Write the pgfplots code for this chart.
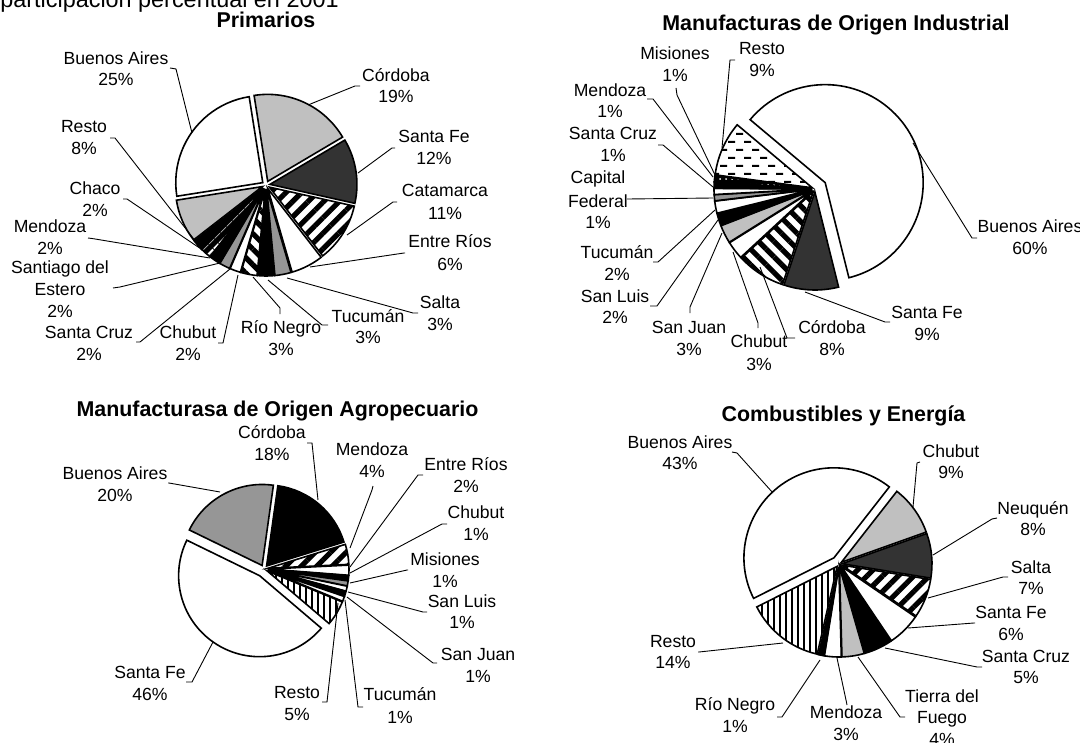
\documentclass[border=0pt]{standalone}
\usepackage{fontspec}
\setmainfont{Liberation Sans}
\usepackage{pgfplots}
\pgfplotsset{compat=1.18}
\usetikzlibrary{patterns,patterns.meta}
\definecolor{lgray}{HTML}{C0C0C0}
\definecolor{dgray}{HTML}{333333}
\definecolor{mgray}{HTML}{969696}

\pgfdeclarepatternformonly{hdash}{\pgfqpoint{-1pt}{-1pt}}{\pgfqpoint{9pt}{9pt}}{\pgfqpoint{8pt}{8pt}}{%
 \pgfpathrectangle{\pgfqpoint{0pt}{0pt}}{\pgfqpoint{3.5pt}{1pt}}%
 \pgfpathrectangle{\pgfqpoint{4pt}{4pt}}{\pgfqpoint{3.5pt}{1pt}}%
 \pgfusepath{fill}}

\tikzset{
 sWhite/.style={fill=white},
 sLgray/.style={fill=lgray},
 sDgray/.style={fill=dgray},
 sMgray/.style={fill=mgray},
 sBlack/.style={fill=black},
 sDiagA/.style={preaction={fill=white}, pattern={Lines[angle=45,distance=5.5pt,line width=2.6pt]}},
 sDiagB/.style={preaction={fill=white}, pattern={Lines[angle=-45,distance=5.5pt,line width=2.6pt]}},
 sVlines/.style={preaction={fill=white}, pattern={Lines[angle=90,distance=3pt,line width=1.2pt]}},
 sBdash/.style={preaction={fill=black}, pattern={Lines[angle=45,distance=4pt,line width=1.2pt]}, pattern color=white},
 sBdots/.style={preaction={fill=black}, pattern=dots, pattern color=white},
 sHdash/.style={preaction={fill=white}, pattern=hdash},
 leader/.style={line width=0.45pt},
 lbl/.style={anchor=base, inner sep=0pt, font=\fontsize{8.8}{10}\selectfont},
 ttl/.style={anchor=base, inner sep=0pt, font=\bfseries\fontsize{10.7}{12}\selectfont},
}

% #1 cx, #2 cy, #3 radius (px), #4 first slice angle (deg clockwise from 12 o'clock), #5 value/style/explode
\newcommand\pie[5]{%
 \pgfplotsextra{%
  \xdef\cum{#4}%
  \foreach \v/\st/\ex in {#5}{%
   \pgfmathsetmacro\aA{90-\cum}%
   \pgfmathsetmacro\aB{90-\cum-3.6*\v}%
   \pgfmathsetmacro\aM{(\aA+\aB)/2}%
   \draw[\st, line width=0.8pt, line join=miter]
     ([shift={(\aM:\ex*0.5pt)}]axis cs:#1,#2) -- ++(\aA:#3*0.5pt)
     arc[start angle=\aA, end angle=\aB, radius=#3*0.5pt] -- cycle;
   \pgfmathsetmacro\tmp{\cum+3.6*\v}\xdef\cum{\tmp}%
  }%
 }%
}
\newcommand\lab[5]{%
 \node[lbl] at (axis cs:#1,#2) {#4};
 \node[lbl] at (axis cs:#1,#3) {#5};}
\newcommand\ld[3]{\draw[leader] (axis cs:#1) -- (axis cs:#2) -- (axis cs:#3);}

\begin{document}
\begin{tikzpicture}
\begin{axis}[hide axis, scale only axis, width=540pt, height=371.5pt,
  xmin=0, xmax=1080, ymin=0, ymax=743, y dir=reverse, clip=false]
\coordinate (BL) at (axis cs:0,743);
\coordinate (TR) at (axis cs:1080,0);

\node[anchor=base west, inner sep=0pt, font=\fontsize{11.7}{13}\selectfont] at (axis cs:0,8) {participación percentual en 2001};

% ---------------- Primarios ----------------
\node[ttl] at (axis cs:266,28) {Primarios};
\pie{266}{185}{87}{-9}{19/sLgray/4, 12/sDgray/4, 11/sDiagA/4, 6/sWhite/4, 3/sMgray/4, 3/sBlack/4, 3/sDiagB/4, 2/sWhite/4, 2/sMgray/4, 2/sBlack/4, 2/sBdash/4, 2/sBlack/4, 8/sLgray/4, 25/sWhite/4}
\lab{116}{65}{86}{Buenos Aires}{25\%}
\lab{84}{133}{155}{Resto}{8\%}
\lab{95}{195}{217}{Chaco}{2\%}
\lab{50}{233}{254}{Mendoza}{2\%}
\node[lbl] at (axis cs:60,273) {Santiago del};
\node[lbl] at (axis cs:60,295) {Estero};
\node[lbl] at (axis cs:60,317) {2\%};
\lab{89}{338}{360}{Santa Cruz}{2\%}
\lab{188}{338}{360}{Chubut}{2\%}
\lab{281}{333}{355}{Río Negro}{3\%}
\lab{368}{322}{343}{Tucumán}{3\%}
\lab{440}{308}{330}{Salta}{3\%}
\lab{450}{248}{270}{Entre Ríos}{6\%}
\lab{445}{197}{220}{Catamarca}{11\%}
\lab{434}{143}{165}{Santa Fe}{12\%}
\lab{396}{82}{103}{Córdoba}{19\%}
\ld{170,68}{176,69}{192,133}
\ld{110,138}{115,138}{200,247}
\ld{123,199}{127,199}{207,253}
\ld{88,238}{92,238.5}{210,258}
\ld{113,288}{120,287}{220,263}
\ld{136,342}{140,342}{230,269}
\ld{218,343}{223,343}{238,275}
\ld{280,314}{280,308}{253,277}
\ld{328,325}{322,325}{268,280}
\ld{418,313}{413,313}{287,278}
\ld{405,253}{404,253}{310,267}
\ld{397,202}{393,202}{347,235}
\ld{395,148}{392,148}{358,173}
\ld{360,86}{355,86}{308,105}

% ---------------- Manufacturas de Origen Industrial ----------------
\node[ttl] at (axis cs:836,31) {Manufacturas de Origen Industrial};
\pie{815}{189}{98}{-50}{60/sWhite/12, 9/sDgray/3, 8/sDiagB/3, 3/sWhite/3, 3/sLgray/3, 2/sBlack/3, 2/sWhite/3, 1/sMgray/3, 1/sWhite/3, 1/sBlack/3, 1/sBdots/3, 9/sHdash/3}
\lab{675}{60}{82}{Misiones}{1\%}
\lab{762}{55}{77}{Resto}{9\%}
\lab{610}{97}{118}{Mendoza}{1\%}
\lab{613}{140}{162}{Santa Cruz}{1\%}
\node[lbl] at (axis cs:598,184) {Capital};
\node[lbl] at (axis cs:598,207) {Federal};
\node[lbl] at (axis cs:598,228) {1\%};
\lab{617}{258}{280}{Tucumán}{2\%}
\lab{615}{302}{323}{San Luis}{2\%}
\lab{689}{333}{355}{San Juan}{3\%}
\lab{759}{347}{370}{Chubut}{3\%}
\lab{832}{333}{355}{Córdoba}{8\%}
\lab{927}{318}{340}{Santa Fe}{9\%}
\lab{1030}{233}{255}{Buenos Aires}{60\%}
\ld{676,88}{677,95}{715,175}
\ld{735,60}{730,60}{722,148}
\ld{647,99}{653,99}{713,177}
\ld{658,145}{663,145}{713,187}
\ld{627,199}{628,199}{713,198}
\ld{653,262}{658,262}{715,210}
\ld{650,306}{657,306}{718,220}
\ld{690,313}{690,307}{722,233}
\ld{758,328}{758,323}{733,252}
\ld{795,338}{787,338}{760,267}
\ld{890,322}{885,322}{805,292}
\ld{977,238}{972,238}{913,143}

% ---------------- Manufacturasa de Origen Agropecuario ----------------
\node[ttl] at (axis cs:277.5,416) {Manufacturasa de Origen Agropecuario};
\pie{264}{569}{81}{8}{18/sBlack/4, 4/sDiagA/4, 2/sWhite/4, 1/sBlack/4, 1/sMgray/4, 1/sWhite/4, 1/sBlack/4, 1/sWhite/4, 5/sVlines/4, 46/sWhite/8, 20/sMgray/4}
\lab{272}{438}{460}{Córdoba}{18\%}
\lab{115}{479}{501}{Buenos Aires}{20\%}
\lab{150}{678}{700}{Santa Fe}{46\%}
\lab{297}{698}{720}{Resto}{5\%}
\lab{400}{700}{723}{Tucumán}{1\%}
\lab{478}{660}{682}{San Juan}{1\%}
\lab{462}{607}{628}{San Luis}{1\%}
\lab{445}{565}{587}{Misiones}{1\%}
\lab{476}{518}{540}{Chubut}{1\%}
\lab{466}{470}{492}{Entre Ríos}{2\%}
\lab{372}{455}{477}{Mendoza}{4\%}
\ld{307,443}{312,443}{318,500}
\ld{168,483}{169,483}{220,492}
\ld{186,682}{192,682}{213,642}
\ld{373,486}{372,490}{350,548}
\ld{423,475}{418,475}{350,567}
\ld{447,524}{442,524}{350,573}
\ld{408,570}{407,570}{350,583}
\ld{427,612}{423,612}{348,592}
\ld{437,663}{433,663}{347,597}
\ld{363,707}{358,707}{345,600}
\ld{322,702}{327,702}{338,603}

% ---------------- Combustibles y Energía ----------------
\node[ttl] at (axis cs:843.5,421) {Combustibles y Energía};
\pie{839}{564}{90}{38}{9/sLgray/3, 8/sDgray/3, 7/sDiagA/3, 6/sWhite/3, 5/sBlack/3, 4/sLgray/3, 3/sWhite/3, 1/sBlack/3, 14/sVlines/3, 43/sWhite/8}
\lab{680}{448}{469}{Buenos Aires}{43\%}
\lab{951}{457}{478}{Chubut}{9\%}
\lab{1033}{514}{535}{Neuquén}{8\%}
\lab{1031}{573}{594}{Salta}{7\%}
\lab{1011}{618}{640}{Santa Fe}{6\%}
\lab{1026}{662}{683}{Santa Cruz}{5\%}
\node[lbl] at (axis cs:942,702) {Tierra del};
\node[lbl] at (axis cs:942,723) {Fuego};
\node[lbl] at (axis cs:942,745) {4\%};
\lab{846}{718}{740}{Mendoza}{3\%}
\lab{735}{710}{732}{Río Negro}{1\%}
\lab{673}{647}{668}{Resto}{14\%}
\ld{732,452}{737,453}{773,493}
\ld{920,462}{917,463}{913,507}
\ld{997,518}{992,519}{933,555}
\ld{1008,577}{1003,577}{928,598}
\ld{975,623}{974,623}{908,628}
\ld{982,667}{977,667}{885,648}
\ld{905,717}{900,717}{858,657}
\ld{847,705}{846,700}{837,658}
\ld{777,717}{782,717}{820,660}
\ld{698,652}{699,652}{783,643}
\end{axis}
\pgfresetboundingbox
\path[use as bounding box] (BL) rectangle (TR);
\end{tikzpicture}
\end{document}
